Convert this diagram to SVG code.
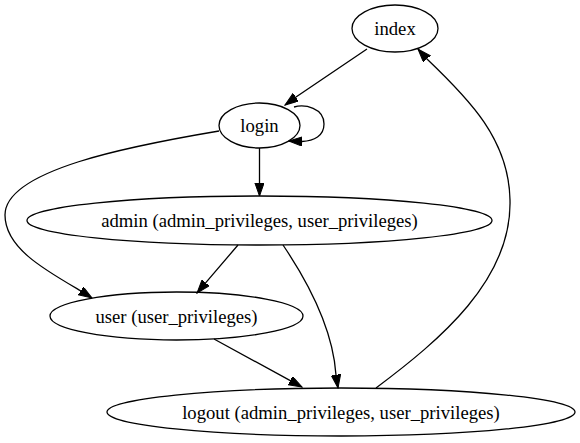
<svg xmlns="http://www.w3.org/2000/svg" width="580" height="443" viewBox="0 0 580 443">
<defs>
<style>
.node ellipse{fill:none;stroke:#000;stroke-width:1.3}
.node text{font-family:"Liberation Serif","Times New Roman",serif;font-size:18.67px;text-anchor:middle;fill:#000}
.edge{fill:none;stroke:#000;stroke-width:1.3;marker-end:url(#ah)}
</style>
<marker id="ah" markerUnits="userSpaceOnUse" markerWidth="14" markerHeight="10" refX="13.3" refY="4.7" orient="auto" viewBox="0 0 14 10">
<path d="M0,0 L13.3,4.7 L0,9.4 z" fill="#000" stroke="#000" stroke-width="1"/>
</marker>
</defs>
<rect width="580" height="443" fill="#fff"/>
<g id="edges">
<path class="edge" d="M367,49 L296,97 L285,105"/>
<path class="edge" d="M294,107 C305,104 324,108 324,124 C324,136 314,141 302,141.5 L289,141"/>
<path class="edge" d="M259.5,148 L259.5,183 L259.5,196"/>
<path class="edge" d="M219,131 C130,146 5,170 5,215 C5,248 45,270 81,291 L92,298"/>
<path class="edge" d="M238,245 L205.6,282.9 L197,293"/>
<path class="edge" d="M283,245 C310,285 333,330 336,375 L338,388"/>
<path class="edge" d="M214,339 L290.3,380.6 L302,387"/>
<path class="edge" d="M376,388 C440,340 512,280 510,200 C509,140 470,100 427,59 L418,49"/>
</g>
<g id="index" class="node"><ellipse cx="395" cy="28.5" rx="43" ry="23.5"/><text x="395" y="35">index</text></g>
<g id="login" class="node"><ellipse cx="259.5" cy="125.5" rx="40.5" ry="22.5"/><text x="259.5" y="132">login</text></g>
<g id="admin" class="node"><ellipse cx="259.5" cy="220.5" rx="232.5" ry="24.5"/><text x="259.5" y="227">admin (admin_privileges, user_privileges)</text></g>
<g id="user" class="node"><ellipse cx="176.5" cy="316" rx="126.5" ry="24"/><text x="176.5" y="322.5">user (user_privileges)</text></g>
<g id="logout" class="node"><ellipse cx="341" cy="412" rx="234" ry="24"/><text x="341" y="418.5">logout (admin_privileges, user_privileges)</text></g>
</svg>
